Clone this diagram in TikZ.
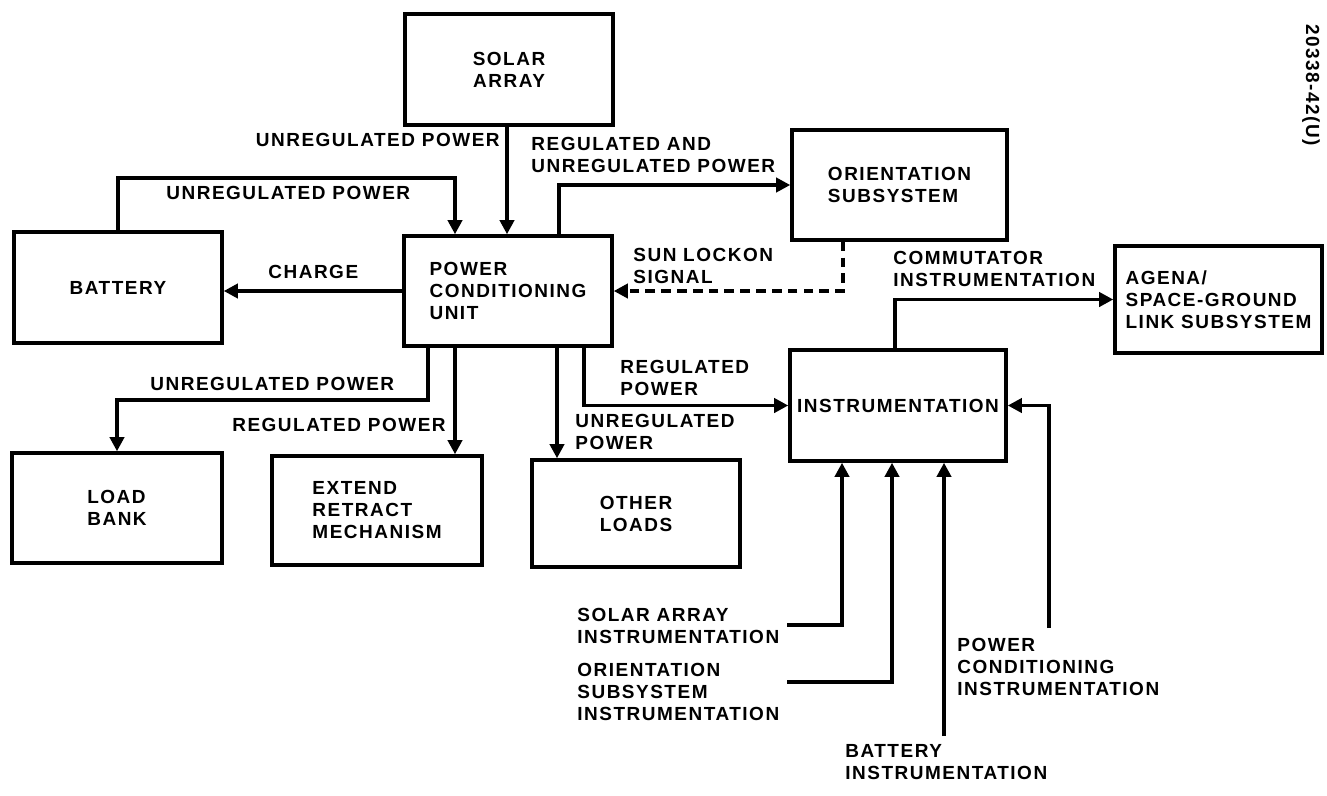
\documentclass[tikz,border=0pt]{standalone}
\usepackage{fontspec}
\setmainfont{Liberation Sans}[LetterSpace=8]
\usetikzlibrary{arrows.meta}
\begin{document}
\begin{tikzpicture}[x=0.02cm, y=-0.02cm,
        every node/.style={font=\bfseries\fontsize{10.8}{12.5}\selectfont, inner sep=0pt},
        blk/.style={draw, line width=2pt, align=left},
        lbl/.style={anchor=west, align=left},
        pwr/.style={line width=2pt, -{Triangle[length=8pt,width=8pt]}},
        sig/.style={pwr, dash pattern=on 5.5pt off 3.5pt}]
        \useasboundingbox (0,0) rectangle (1327,795);
        \node[blk, align=center, minimum width=4.16cm, minimum height=2.22cm] (sa) at (509,69.5) {SOLAR\\ARRAY};
        \node[blk, minimum width=4.16cm, minimum height=2.22cm] (bat) at (118,287.5) {BATTERY};
        \node[blk, minimum width=4.16cm, minimum height=2.2cm] (pcu) at (508,291) {POWER\\CONDITIONING\\UNIT};
        \node[blk, minimum width=4.3cm, minimum height=2.2cm] (ori) at (899.5,185) {ORIENTATION\\SUBSYSTEM};
        \node[blk, minimum width=4.14cm, minimum height=2.14cm] (agena) at (1218.5,299.5) {AGENA/\\SPACE-GROUND\\LINK SUBSYSTEM};
        \node[blk, minimum width=4.32cm, minimum height=2.22cm] (ins) at (898,405.5) {INSTRUMENTATION};
        \node[blk, minimum width=4.2cm, minimum height=2.2cm] (lb) at (117,508) {LOAD\\BANK};
        \node[blk, minimum width=4.2cm, minimum height=2.18cm] (ext) at (377,510.5) {EXTEND\\RETRACT\\MECHANISM};
        \node[blk, minimum width=4.16cm, minimum height=2.14cm] (oth) at (636,513.5) {OTHER\\LOADS};
        \coordinate (sai) at (787,625);
        \coordinate (osi) at (787,682);
        \coordinate (bai) at (944,736);
        \coordinate (pci) at (1049,628);
        \draw[pwr] (sa.south -| 507,0) -- (pcu.north -| 507,0);
        \draw[pwr] (bat.north) |- (455,178) -- (pcu.north -| 455,0);
        \draw[pwr] (pcu.north -| 559,0) |- (ori.west);
        \draw[sig] (ori.south -| 843,0) |- (pcu.east);
        \draw[pwr] (pcu.west) -- (pcu.west -| bat.east);
        \draw[pwr] (pcu.south -| 428,0) |- (lb.north |- 0,400) -- (lb.north);
        \draw[pwr] (pcu.south -| 455,0) -- (ext.north -| 455,0);
        \draw[pwr] (pcu.south -| 557,0) -- (oth.north -| 557,0);
        \draw[pwr] (pcu.south -| 584,0) |- (ins.west);
        \draw[pwr] (ins.north -| 895,0) |- (agena.west);
        \draw[pwr] (sai) -| (ins.south -| 842,0);
        \draw[pwr] (osi) -| (ins.south -| 892,0);
        \draw[pwr] (bai) -- (ins.south -| 944,0);
        \draw[pwr] (pci) |- (ins.east);
        \node[anchor=east] (l1) at (500,140) {UNREGULATED POWER};
        \node[lbl] (l2) at (166,193) {UNREGULATED POWER};
        \node[lbl] (l3) at (531,155) {REGULATED AND\\UNREGULATED POWER};
        \node[lbl] (l4) at (633,266) {SUN LOCKON\\SIGNAL};
        \node[lbl] (l5) at (268,272) {CHARGE};
        \node[lbl] (l6) at (150,384) {UNREGULATED POWER};
        \node[anchor=east] (l7) at (446,425) {REGULATED POWER};
        \node[lbl] (l8) at (575,432) {UNREGULATED\\POWER};
        \node[lbl] (l9) at (620,378) {REGULATED\\POWER};
        \node[lbl] (l10) at (893,269) {COMMUTATOR\\INSTRUMENTATION};
        \node[lbl] (l11) at (577,626) {SOLAR ARRAY\\INSTRUMENTATION};
        \node[lbl] (l12) at (577,692) {ORIENTATION\\SUBSYSTEM\\INSTRUMENTATION};
        \node[lbl] (l13) at (845,762) {BATTERY\\INSTRUMENTATION};
        \node[lbl] (l14) at (957,667) {POWER\\CONDITIONING\\INSTRUMENTATION};
        \node[rotate=-90] (fig) at (1311,85) {20338-42(U)};
        \end{tikzpicture}
\end{document}
